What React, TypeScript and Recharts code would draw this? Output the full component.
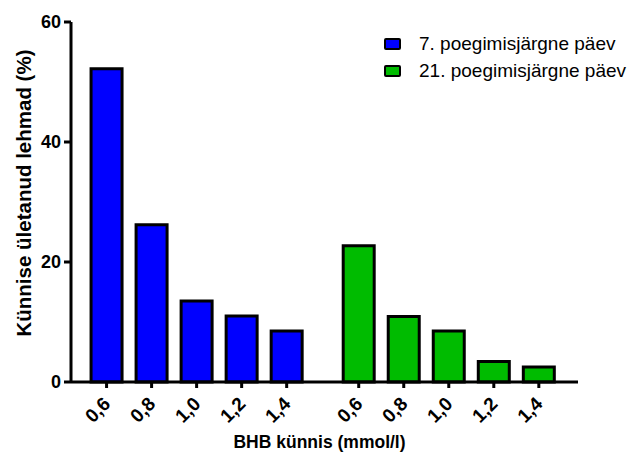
import { BarChart, Bar, XAxis, YAxis, Legend } from "recharts";

const thresholds = ["0,6", "0,8", "1,0", "1,2", "1,4"];
const day7 = [52.2, 26.2, 13.5, 11.0, 8.5];
const day21 = [22.7, 10.9, 8.5, 3.4, 2.5];
const yTicks = [0, 20, 40, 60];

const seriesNames = {
  day7: "7. poegimisjärgne päev",
  day21: "21. poegimisjärgne päev",
};

// second group sits a bit more than one slot after the first
const groupOffset = 5.6;

const data = [
  ...thresholds.map((t, i) => ({ pos: i, label: t, day7: day7[i] })),
  ...thresholds.map((t, i) => ({ pos: i + groupOffset, label: t, day21: day21[i] })),
];
const xTicks = data.map((d) => d.pos);
const labelAt = (p: number) => data.find((d) => d.pos === p)?.label ?? "";

const font = '"Liberation Sans", Arial, sans-serif';

function XTick({ x, y, payload }: any) {
  return (
    <g transform={`translate(${x + 5},${y + 15})`}>
      <text
        textAnchor="end"
        transform="rotate(-45)"
        fontSize={19}
        fontWeight="bold"
        fontFamily={font}
        fill="#000"
      >
        {labelAt(payload.value)}
      </text>
    </g>
  );
}

function LegendBox() {
  const items = [
    { name: seriesNames.day7, color: "#0000ff" },
    { name: seriesNames.day21, color: "#00bb00" },
  ];
  return (
    <div style={{ fontFamily: font, fontSize: 19 }}>
      {items.map((it) => (
        <div key={it.name} style={{ display: "flex", alignItems: "center", height: 27 }}>
          <span
            style={{
              display: "inline-block",
              width: 13,
              height: 8,
              background: it.color,
              border: "2px solid #000",
              borderRadius: 2,
              marginRight: 18,
            }}
          />
          <span>{it.name}</span>
        </div>
      ))}
    </div>
  );
}

export default function App() {
  return (
    <div style={{ position: "absolute", left: 0, top: 0, background: "#fff" }}>
      <BarChart
        width={634}
        height={452}
        data={data}
        margin={{ top: 22, right: 56, bottom: 0, left: 0 }}
      >
        <XAxis
          type="number"
          dataKey="pos"
          domain={[-0.79, 10.47]}
          ticks={xTicks}
          interval={0}
          height={70}
          axisLine={{ stroke: "#000", strokeWidth: 3 }}
          tickLine={{ stroke: "#000", strokeWidth: 3 }}
          tickSize={6}
          tick={<XTick />}
          label={{
            content: ({ viewBox }: any) => (
              <text
                x={viewBox.x + viewBox.width / 2 - 5}
                y={448}
                textAnchor="middle"
                fontSize={17.5}
                fontWeight="bold"
                fontFamily={font}
                fill="#000"
              >
                BHB künnis (mmol/l)
              </text>
            ),
          }}
        />
        <YAxis
          domain={[0, 60]}
          ticks={yTicks}
          width={71}
          axisLine={{ stroke: "#000", strokeWidth: 3 }}
          tickLine={{ stroke: "#000", strokeWidth: 3 }}
          tickSize={7}
          tickMargin={3}
          tick={{ fontSize: 18, fontWeight: "bold", fill: "#000", fontFamily: font }}
          label={{
            content: ({ viewBox }: any) => (
              <text
                x={0}
                y={0}
                transform={`translate(${viewBox.x + 31},${viewBox.y + viewBox.height / 2 - 9}) rotate(-90)`}
                textAnchor="middle"
                fontSize={20.5}
                fontWeight="bold"
                fontFamily={font}
                fill="#000"
              >
                Künnise ületanud lehmad (%)
              </text>
            ),
          }}
        />
        <Legend
          layout="vertical"
          align="center"
          verticalAlign="middle"
          content={<LegendBox />}
          wrapperStyle={{ position: "absolute", left: 384, top: 30, width: "auto" }}
        />
        <Bar
          dataKey="day7"
          name={seriesNames.day7}
          stackId="s"
          barSize={31}
          fill="#0000ff"
          stroke="#000"
          strokeWidth={3}
          isAnimationActive={false}
        />
        <Bar
          dataKey="day21"
          name={seriesNames.day21}
          stackId="s"
          barSize={31}
          fill="#00bb00"
          stroke="#000"
          strokeWidth={3}
          isAnimationActive={false}
        />
      </BarChart>
    </div>
  );
}
